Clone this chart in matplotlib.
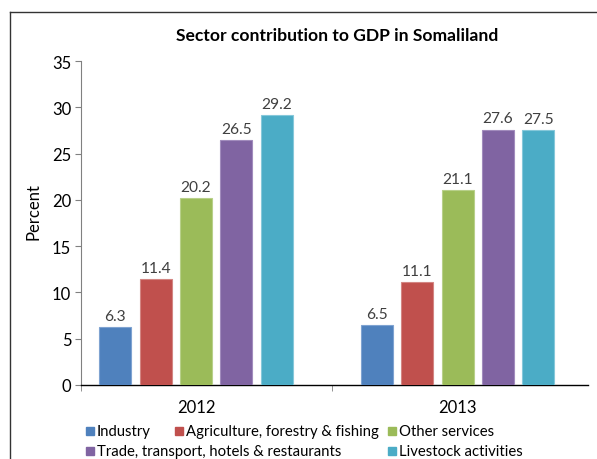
import matplotlib
matplotlib.use("Agg")
import matplotlib.pyplot as plt
from matplotlib.patches import Rectangle
from matplotlib.lines import Line2D
import numpy as np

plt.rcParams['font.family'] = ['Lato', 'DejaVu Sans']

years = ["2012", "2013"]
sectors = ["Industry", "Agriculture, forestry & fishing", "Other services",
           "Trade, transport, hotels & restaurants", "Livestock activities"]
values = {
    "Industry": [6.3, 6.5],
    "Agriculture, forestry & fishing": [11.4, 11.1],
    "Other services": [20.2, 21.1],
    "Trade, transport, hotels & restaurants": [26.5, 27.6],
    "Livestock activities": [29.2, 27.5],
}
colors = ["#4F81BD", "#C0504D", "#9BBB59", "#8064A2", "#4BACC6"]
edges = ["#7FA3D1", "#D38683", "#B8D08A", "#A28CBD", "#86C8DA"]
yticks = [0, 5, 10, 15, 20, 25, 30, 35]

W, H = 597, 460
fig = plt.figure(figsize=(W / 100, H / 100), dpi=100)
ax = fig.add_axes([81 / W, 1 - 386 / H, (588 - 81) / W, (386 - 62) / H])

x = np.arange(len(years))
pitch = 0.154
bw = 0.1223
for i, s in enumerate(sectors):
    pos = x + (i - 2) * pitch
    bars = ax.bar(pos, values[s], width=bw, color=colors[i], edgecolor=edges[i],
                  linewidth=0.8, zorder=3)
    for b, v in zip(bars, values[s]):
        ax.annotate(f"{v:.1f}", (b.get_x() + b.get_width() / 2, b.get_height()),
                    xytext=(0, 3), textcoords="offset points", ha="center",
                    va="bottom", fontsize=11.2, color="#404040")

ax.set_xlim(-0.4394, 1.4979)
ax.set_ylim(0, 35)
ax.set_yticks(yticks)
ax.set_xticks(x)
ax.set_xticklabels(years)
ax.set_xticks([-0.4394, 0.5185], minor=True)
ax.tick_params(axis="x", which="major", length=0, pad=10, labelsize=12, colors="black")
ax.tick_params(axis="x", which="minor", length=4, direction="out", color="#808080")
ax.tick_params(axis="y", length=4, direction="out", labelsize=12, pad=3, color="#808080")
ax.set_ylabel("Percent", fontsize=12)
ax.yaxis.set_label_coords(-(81 - 33) / 507, (386 - 212) / 324)
ax.yaxis.label.set_verticalalignment("center")
for sp in ["top", "right"]:
    ax.spines[sp].set_visible(False)
ax.spines["left"].set_color("#808080")
ax.spines["bottom"].set_color("#000000")
ax.spines["bottom"].set_linewidth(1.0)

fig.text(337 / W, 1 - 36 / H, "Sector contribution to GDP in Somaliland",
         ha="center", va="center", fontsize=12.6, fontweight="bold")

# outer frame
fig.add_artist(Line2D([9.5 / W, 9.5 / W], [0, 1 - 13.3 / H], color="#333333", lw=1.0))
fig.add_artist(Line2D([9.5 / W, 1], [1 - 13.3 / H, 1 - 13.3 / H], color="#333333", lw=1.0))

# legend (flow layout)
leg_pos = [(86, 432), (175, 432), (388, 432), (86, 452), (388, 452)]
for (lx, ly), s, c in zip(leg_pos, sectors, colors):
    fig.add_artist(Rectangle((lx / W, 1 - (ly + 4) / H), 8 / W, 8 / H,
                             color=c, transform=fig.transFigure))
    fig.text((lx + 11) / W, 1 - ly / H, s, ha="left", va="center", fontsize=10.7)

fig.savefig("out.png", dpi=100)
